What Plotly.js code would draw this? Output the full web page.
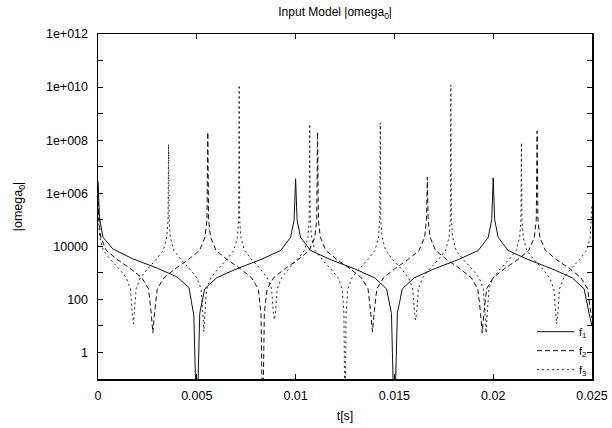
<!DOCTYPE html>
<html>
<head>
<meta charset="utf-8">
<script src="https://cdn.plot.ly/plotly-3.0.1.min.js"></script>
<style>html,body{margin:0;padding:0;background:#fff;}#chart{width:612px;height:428px;}</style>
</head>
<body>
<div id="chart"></div>
<script>
// f1 (solid): time [s] and |omega_0|
const t1 = [0, 0.000075, 0.00025, 0.00075, 0.00175, 0.003, 0.004, 0.0046, 0.00485, 0.005,
  0.00515, 0.0054, 0.006, 0.007, 0.00825, 0.00925, 0.00975, 0.009925, 0.01,
  0.010075, 0.01025, 0.01075, 0.01175, 0.013, 0.014, 0.0146, 0.01485, 0.015,
  0.01515, 0.0154, 0.016, 0.017, 0.01825, 0.01925, 0.01975, 0.019925, 0.02,
  0.020075, 0.02025, 0.02075, 0.02175, 0.023, 0.024, 0.0246, 0.02485, 0.025];
const v1 = [3e6, 1.2e5, 2.2e4, 8e3, 3.4e3, 1.5e3, 700, 280, 25, 1e-3,
  30, 250, 650, 1.4e3, 3.2e3, 7e3, 2.2e4, 1e5, 3.5e6,
  1e5, 2.2e4, 7e3, 3.2e3, 1.4e3, 650, 250, 30, 1e-3,
  30, 250, 650, 1.4e3, 3.2e3, 7e3, 2.2e4, 1e5, 3.8e6,
  1e5, 2.2e4, 7e3, 3.2e3, 1.4e3, 650, 250, 30, 10];

// f2 (dashed)
const t2 = [0, 0.0000417, 0.000139, 0.000417, 0.000972, 0.001667, 0.002222, 0.002556, 0.002694, 0.002778,
  0.002861, 0.003, 0.003333, 0.003889, 0.004583, 0.005139, 0.005417, 0.005514, 0.005556,
  0.005597, 0.005694, 0.005972, 0.006528, 0.007222, 0.007778, 0.008111, 0.00825, 0.008333,
  0.008417, 0.008556, 0.008889, 0.009444, 0.010139, 0.010694, 0.010972, 0.011069, 0.011111,
  0.011153, 0.01125, 0.011528, 0.012083, 0.012778, 0.013333, 0.013667, 0.013805, 0.013889,
  0.013972, 0.014111, 0.014444, 0.015, 0.015694, 0.01625, 0.016528, 0.016625, 0.016667,
  0.016708, 0.016806, 0.017083, 0.017639, 0.018333, 0.018889, 0.019222, 0.019361, 0.019444,
  0.019528, 0.019667, 0.02, 0.020556, 0.02125, 0.021806, 0.022083, 0.02218, 0.022222,
  0.022264, 0.022361, 0.022639, 0.023194, 0.023889, 0.024444, 0.024778, 0.024916, 0.025];
const v2 = [2e6, 1e5, 2.2e4, 7e3, 3.2e3, 1.4e3, 650, 250, 30, 5.5,
  30, 250, 650, 1.4e3, 3.2e3, 7e3, 2.2e4, 1e5, 2e8,
  1e5, 2.2e4, 7e3, 3.2e3, 1.4e3, 650, 250, 30, 1e-3,
  30, 250, 650, 1.4e3, 3.2e3, 7e3, 2.2e4, 1e5, 2e8,
  1e5, 2.2e4, 7e3, 3.2e3, 1.4e3, 650, 250, 30, 6,
  30, 250, 650, 1.4e3, 3.2e3, 7e3, 2.2e4, 1e5, 4e6,
  1e5, 2.2e4, 7e3, 3.2e3, 1.4e3, 650, 250, 30, 5.5,
  30, 250, 650, 1.4e3, 3.2e3, 7e3, 2.2e4, 1e5, 2.2e8,
  1e5, 2.2e4, 7e3, 3.2e3, 1.4e3, 650, 250, 40, 20];

// f3 (dotted)
const t3 = [0, 0.0000268, 0.0000893, 0.000268, 0.000625, 0.001071, 0.001429, 0.001643, 0.001732, 0.001786,
  0.001839, 0.001929, 0.002143, 0.0025, 0.002946, 0.003304, 0.003482, 0.003545, 0.003571,
  0.003598, 0.003661, 0.003839, 0.004196, 0.004643, 0.005, 0.005214, 0.005304, 0.005357,
  0.005411, 0.0055, 0.005714, 0.006071, 0.006518, 0.006875, 0.007054, 0.007116, 0.007143,
  0.00717, 0.007232, 0.007411, 0.007768, 0.008214, 0.008571, 0.008786, 0.008875, 0.008929,
  0.008982, 0.009071, 0.009286, 0.009643, 0.01009, 0.010446, 0.010625, 0.010688, 0.010714,
  0.010741, 0.010804, 0.010982, 0.011339, 0.011786, 0.012143, 0.012357, 0.012446, 0.0125,
  0.012554, 0.012643, 0.012857, 0.013214, 0.013661, 0.014018, 0.014196, 0.014259, 0.014286,
  0.014313, 0.014375, 0.014554, 0.014911, 0.015357, 0.015714, 0.015929, 0.016018, 0.016071,
  0.016125, 0.016214, 0.016429, 0.016786, 0.017232, 0.017589, 0.017768, 0.01783, 0.017857,
  0.017884, 0.017946, 0.018125, 0.018482, 0.018929, 0.019286, 0.0195, 0.019589, 0.019643,
  0.019696, 0.019786, 0.02, 0.020357, 0.020804, 0.021161, 0.021339, 0.021402, 0.021429,
  0.021455, 0.021518, 0.021696, 0.022054, 0.0225, 0.022857, 0.023071, 0.023161, 0.023214,
  0.023268, 0.023357, 0.023571, 0.023929, 0.024375, 0.024732, 0.024911, 0.024973, 0.025];
const v3 = [1e6, 1e5, 2.2e4, 7e3, 3.2e3, 1.4e3, 650, 250, 30, 12,
  30, 250, 650, 1.4e3, 3.2e3, 7e3, 2.2e4, 1e5, 7e7,
  1e5, 2.2e4, 7e3, 3.2e3, 1.4e3, 650, 250, 30, 6,
  30, 250, 650, 1.4e3, 3.2e3, 7e3, 2.2e4, 1e5, 1.2e10,
  1e5, 2.2e4, 7e3, 3.2e3, 1.4e3, 650, 250, 30, 17,
  30, 250, 650, 1.4e3, 3.2e3, 7e3, 2.2e4, 1e5, 4e8,
  1e5, 2.2e4, 7e3, 3.2e3, 1.4e3, 650, 250, 30, 1e-3,
  30, 250, 650, 1.4e3, 3.2e3, 7e3, 2.2e4, 1e5, 4.5e8,
  1e5, 2.2e4, 7e3, 3.2e3, 1.4e3, 650, 250, 30, 17,
  30, 250, 650, 1.4e3, 3.2e3, 7e3, 2.2e4, 1e5, 1.2e10,
  1e5, 2.2e4, 7e3, 3.2e3, 1.4e3, 650, 250, 30, 5.5,
  30, 250, 650, 1.4e3, 3.2e3, 7e3, 2.2e4, 1e5, 8e7,
  1e5, 2.2e4, 7e3, 3.2e3, 1.4e3, 650, 250, 30, 12,
  30, 250, 650, 1.4e3, 3.2e3, 7e3, 2.2e4, 1e5, 4e5];

const seriesNames = ['f<sub>1</sub>', 'f<sub>2</sub>', 'f<sub>3</sub>'];
const xTickVals = [0, 0.005, 0.01, 0.015, 0.02, 0.025];
const xTickText = ['0', '0.005', '0.01', '0.015', '0.02', '0.025'];
const yTickVals = [1, 10, 100, 1e3, 1e4, 1e5, 1e6, 1e7, 1e8, 1e9, 1e10, 1e11, 1e12];
const yTickText = ['1', '', '100', '', '10000', '', '1e+006', '', '1e+008', '', '1e+010', '', '1e+012'];

const FONT = 'Liberation Sans, Arial, Helvetica, sans-serif';

const traces = [
  {x: t1, y: v1, name: seriesNames[0], mode: 'lines', line: {color: '#111', width: 1, dash: 'solid'}},
  {x: t2, y: v2, name: seriesNames[1], mode: 'lines', line: {color: '#111', width: 1, dash: '5px,3px'}},
  {x: t3, y: v3, name: seriesNames[2], mode: 'lines', line: {color: '#222', width: 1, dash: '2px,3px'}}
];

const axisCommon = {
  ticks: 'inside', ticklen: 5, tickwidth: 1, tickcolor: '#000',
  showline: true, linecolor: '#000', linewidth: 1.5, mirror: 'ticks',
  showgrid: false, zeroline: false,
  tickfont: {family: FONT, size: 12.5, color: '#000'}
};

const layout = {
  width: 612, height: 428,
  margin: {l: 98, r: 20, t: 34, b: 49},
  paper_bgcolor: '#fff', plot_bgcolor: '#fff',
  font: {family: FONT, size: 12, color: '#000'},
  title: {text: 'Input Model |omega<sub>0</sub>|', font: {family: FONT, size: 12, color: '#000'},
          x: 0.48, xref: 'paper', xanchor: 'center', y: 1 - 12 / 428, yref: 'container', yanchor: 'middle'},
  xaxis: Object.assign({}, axisCommon, {
    range: [0, 0.025], tickmode: 'array', tickvals: xTickVals, ticktext: xTickText,
    ticklabelstandoff: 4,
    title: {text: 't[s]', font: {family: FONT, size: 12.5, color: '#000'}, standoff: 9}
  }),
  yaxis: Object.assign({}, axisCommon, {
    type: 'log', range: [-1, 12], tickmode: 'array', tickvals: yTickVals, ticktext: yTickText,
    ticklabelstandoff: 6,
    title: {text: '|omega<sub>0</sub>|', font: {family: FONT, size: 12.5, color: '#000'}, standoff: 20}
  }),
  showlegend: true,
  legend: {x: 1, xanchor: 'right', y: -0.015, yanchor: 'bottom', bgcolor: 'rgba(0,0,0,0)',
           font: {family: FONT, size: 11, color: '#000'}, tracegroupgap: 0, itemwidth: 37}
};

Plotly.newPlot('chart', traces, layout, {staticPlot: true, displayModeBar: false});
</script>
</body>
</html>
